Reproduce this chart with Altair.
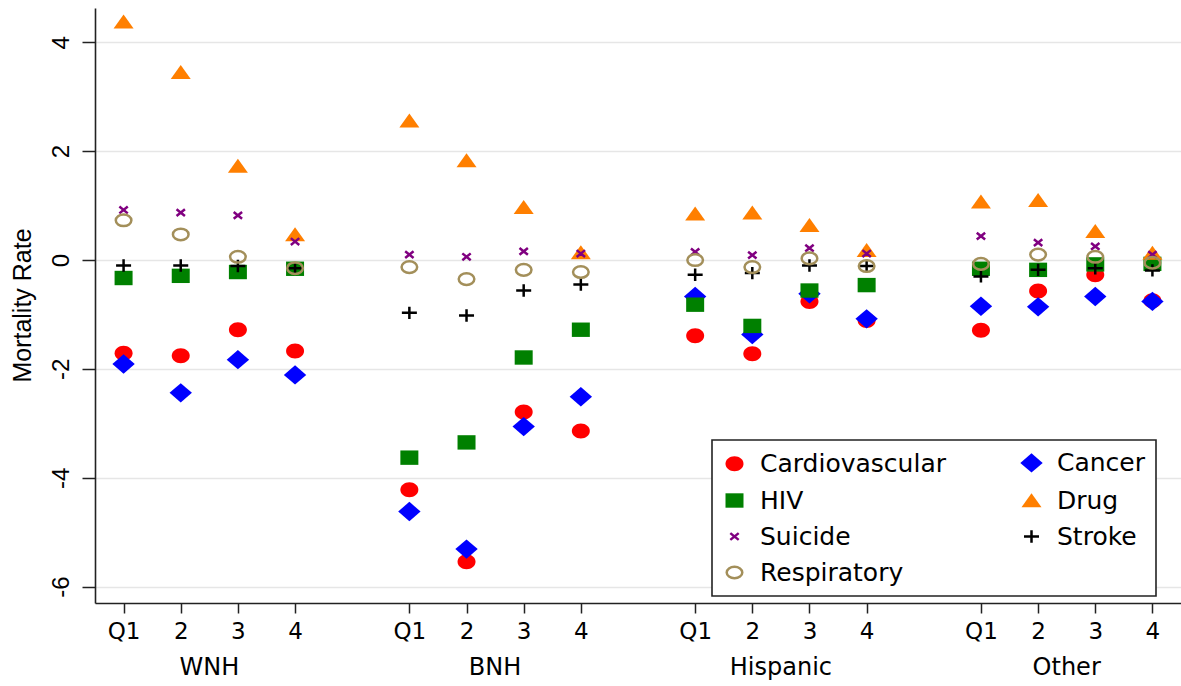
import altair as alt
import pandas as pd

# ---- data ----
x_pos = [1, 2, 3, 4, 6, 7, 8, 9, 11, 12, 13, 14, 16, 17, 18, 19]
x_labels = ["Q1", "2", "3", "4"] * 4
groups = ["WNH", "BNH", "Hispanic", "Other"]
y_ticks = [-6, -4, -2, 0, 2, 4]

causes = ["Cardiovascular", "Cancer", "HIV", "Drug", "Suicide", "Stroke", "Respiratory"]

cardio = [-1.71, -1.76, -1.28, -1.67, -4.22, -5.54, -2.79, -3.14,
          -1.39, -1.72, -0.76, -1.11, -1.29, -0.57, -0.27, -0.75]
cancer = [-1.91, -2.44, -1.83, -2.11, -4.62, -5.31, -3.06, -2.51,
          -0.67, -1.37, -0.62, -1.08, -0.85, -0.86, -0.67, -0.76]
hiv = [-0.33, -0.29, -0.22, -0.16, -3.63, -3.35, -1.79, -1.28,
       -0.82, -1.21, -0.56, -0.46, -0.16, -0.18, -0.08, -0.07]
drug = [4.38, 3.45, 1.73, 0.47, 2.56, 1.83, 0.97, 0.14,
        0.85, 0.87, 0.64, 0.18, 1.07, 1.10, 0.53, 0.13]
suicide = [0.92, 0.87, 0.82, 0.34, 0.10, 0.06, 0.16, 0.12,
           0.15, 0.09, 0.22, 0.12, 0.44, 0.32, 0.25, 0.10]
stroke = [-0.10, -0.10, -0.11, -0.15, -0.97, -1.02, -0.56, -0.45,
          -0.27, -0.24, -0.10, -0.11, -0.30, -0.18, -0.15, -0.19]
resp = [0.73, 0.47, 0.06, -0.15, -0.13, -0.35, -0.18, -0.22,
        0.00, -0.13, 0.03, -0.11, -0.07, 0.10, 0.06, -0.05]

series = [cardio, cancer, hiv, drug, suicide, stroke, resp]

rows = []
for cause, vals in zip(causes, series):
    for xp, v in zip(x_pos, vals):
        rows.append({"x": xp, "value": v, "cause": cause})
df = pd.DataFrame(rows)

gdf = pd.DataFrame({
    "x": [sum(x_pos[i * 4:(i + 1) * 4]) / 4 for i in range(4)],
    "label": groups,
})

# ---- styles ----
shapes = [
    "M-0.9,0A0.9,0.75,0,1,1,0.9,0A0.9,0.75,0,1,1,-0.9,0Z",
    "M0,-0.97L1.12,0L0,0.97L-1.12,0Z",
    "M-0.9,-0.72H0.9V0.72H-0.9Z",
    "M0,-0.72L1.0,0.68L-1.0,0.68Z",
    "M-0.42,-0.34L0.42,0.34M-0.42,0.34L0.42,-0.34",
    "M-0.75,0H0.75M0,-0.62V0.62",
    "M-0.78,0A0.78,0.58,0,1,1,0.78,0A0.78,0.58,0,1,1,-0.78,0Z",
]
fills = ["#FF0000", "#0000FF", "#008000", "#FF7F00", "transparent", "transparent", "transparent"]
strokes = ["transparent", "transparent", "transparent", "transparent", "#800080", "#000000", "#A38F5A"]

label_expr = " : ".join(
    f"datum.value == {p} ? '{l}'" for p, l in zip(x_pos, x_labels)
) + " : ''"

x_enc = alt.X(
    "x:Q",
    scale=alt.Scale(domain=[0.5, 19.5], nice=False, zero=False),
    axis=alt.Axis(
        values=x_pos, labelExpr=label_expr, title=None, grid=False,
        tickSize=10, tickWidth=1.5, tickColor="#222", domainColor="#222",
        domainWidth=1.6, labelFont="DejaVu Sans", labelFontSize=23,
        labelColor="black", labelBaseline="alphabetic", labelPadding=25,
        labelFlush=False, labelOverlap=False,
    ),
)

points = alt.Chart(df).mark_point(size=400, strokeWidth=2.5, opacity=1).encode(
    x=x_enc,
    y=alt.Y(
        "value:Q",
        scale=alt.Scale(domain=[-6.30, 4.63], nice=False, zero=False),
        axis=alt.Axis(
            values=y_ticks, title="Mortality Rate", labelExpr="toString(datum.value)",
            grid=True, gridColor="#E6E6E6", gridWidth=1.6,
            tickSize=13, tickWidth=1.5, tickColor="#222", domainColor="#222",
            domainWidth=1.6, labelFont="Liberation Sans", labelFontSize=24,
            labelColor="black", labelAngle=270, labelAlign="center",
            labelBaseline="alphabetic", labelPadding=14,
            titleFont="Liberation Sans", titleFontSize=25, titleFontWeight="normal",
            titleColor="black", titleAngle=270, titleAlign="center",
            titleBaseline="alphabetic", titleX=-65, titleY=297,
        ),
    ),
    shape=alt.Shape(
        "cause:N",
        scale=alt.Scale(domain=causes, range=shapes),
        legend=alt.Legend(
            title=None, orient="none", legendX=617, legendY=432, columns=2,
            direction="horizontal",
            labelFont="DejaVu Sans", labelFontSize=25, labelColor="black",
            labelLimit=400, labelOffset=13, symbolSize=400, symbolStrokeWidth=2.5,
            symbolOpacity=1, padding=10, rowPadding=10, columnPadding=69,
            strokeColor="#222", fillColor="white",
        ),
    ),
    fill=alt.Fill("cause:N", scale=alt.Scale(domain=causes, range=fills, type="ordinal")),
    stroke=alt.Stroke("cause:N", scale=alt.Scale(domain=causes, range=strokes, type="ordinal")),
)

group_text = alt.Chart(gdf).mark_text(
    font="DejaVu Sans", fontSize=24, color="black", baseline="alphabetic", align="center"
).encode(
    x=x_enc,
    y=alt.value(667),
    text="label:N",
)

chart = alt.layer(points, group_text).properties(
    width=1086, height=595,
    padding={"left": 95, "top": 8, "right": 0, "bottom": 83},
    autosize=alt.AutoSizeParams(type="none"),
).configure_view(stroke=None).configure_legend(strokeWidth=1.6)

chart.save("out.html", embed_options={"renderer": "svg", "actions": False})
